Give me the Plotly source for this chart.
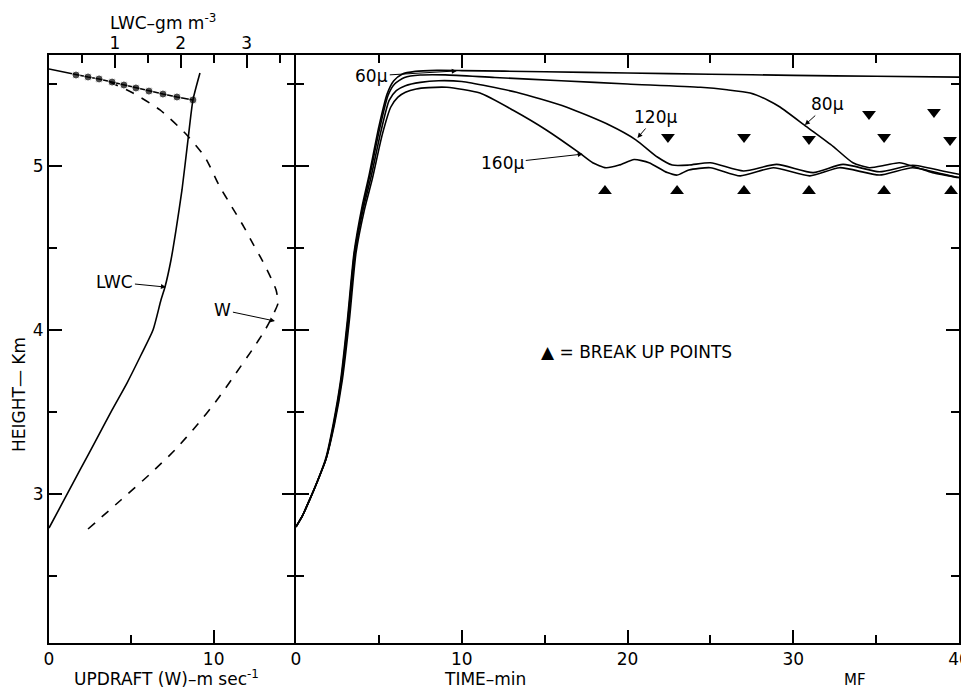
import plotly.graph_objects as go

# ---------------- data: left panel (profiles) ----------------
lwc_height = [2.793, 2.964, 3.147, 3.329, 3.512, 3.677, 3.848, 4.0, 4.183, 4.262, 4.427, 4.61,
              4.854, 5.159, 5.403, 5.567]
lwc_value = [0.0, 0.228, 0.471, 0.714, 0.956, 1.184, 1.397, 1.579, 1.70, 1.761, 1.852, 1.928,
             2.019, 2.11, 2.186, 2.292]

w_value = [2.37, 4.37, 6.07, 7.65, 8.99, 10.20, 11.36, 12.33, 13.12, 13.60, 13.91, 13.79, 13.48,
           12.94, 12.39, 11.84, 11.11, 10.32, 9.47, 8.26, 6.74, 5.10, 3.70]
w_height = [2.787, 2.964, 3.116, 3.269, 3.421, 3.573, 3.738, 3.878, 4.0, 4.092, 4.165, 4.244,
            4.317, 4.427, 4.525, 4.628, 4.75, 4.884, 5.055, 5.201, 5.342, 5.445, 5.512]

top_w = [0.0, 1.64, 2.37, 3.04, 3.83, 4.55, 5.28, 6.07, 6.92, 7.77, 8.74]
top_height = [5.592, 5.555, 5.543, 5.531, 5.512, 5.494, 5.476, 5.457, 5.439, 5.421, 5.403]

# ---------------- data: right panel (trajectories) ----------------
t60 = [0, 0.4, 0.8, 1.3, 1.8, 2.25, 2.7, 3.1, 3.5, 4.0, 4.4, 5.0, 5.5, 5.9, 6.4, 7.2, 8.5, 10,
       15, 20, 25, 30, 35, 40]
h60 = [2.80, 2.87, 2.96, 3.08, 3.22, 3.43, 3.70, 4.06, 4.47, 4.76, 4.94, 5.24, 5.44, 5.52, 5.56,
       5.577, 5.583, 5.582, 5.575, 5.567, 5.56, 5.553, 5.547, 5.542]

t80 = [0, 0.4, 0.8, 1.3, 1.8, 2.28, 2.73, 3.13, 3.53, 4.03, 4.45, 5.05, 5.55, 5.95, 6.55, 7.5, 9,
       12, 16, 20, 24.4, 26, 27.4, 28.5, 29.2, 30.8, 32.4, 33.6, 34.6, 35.6, 36.4, 37.5, 38.4, 40]
h80 = [2.80, 2.87, 2.96, 3.08, 3.21, 3.43, 3.70, 4.06, 4.47, 4.75, 4.94, 5.23, 5.43, 5.50, 5.54,
       5.555, 5.556, 5.54, 5.52, 5.50, 5.48, 5.465, 5.445, 5.40, 5.36, 5.24, 5.12, 5.02, 4.99,
       5.006, 5.02, 4.99, 4.96, 4.93]

t120 = [0, 0.4, 0.8, 1.3, 1.8, 2.3, 2.76, 3.16, 3.56, 4.06, 4.52, 5.12, 5.62, 6.05, 6.6, 7.5, 8.6,
        10, 13.3, 16.3, 18.9, 20.5, 21.8, 22.7, 23.7, 25, 27, 29, 31.2, 33, 35.2, 37.2, 39, 40]
h120 = [2.80, 2.87, 2.96, 3.08, 3.21, 3.43, 3.70, 4.06, 4.47, 4.74, 4.93, 5.21, 5.40, 5.46, 5.49,
        5.51, 5.52, 5.515, 5.45, 5.36, 5.25, 5.16, 5.055, 5.006, 5.006, 5.02, 4.97, 5.01, 4.96,
        5.01, 4.965, 5.005, 4.97, 4.95]

t160 = [0, 0.4, 0.8, 1.3, 1.8, 2.33, 2.8, 3.22, 3.62, 4.12, 4.6, 5.2, 5.72, 6.15, 6.6, 7.25, 8,
        9.1, 11.1, 13.1, 15.1, 17.1, 17.9, 18.7, 19.5, 20.4, 21.3, 22.4, 23.0, 23.7, 25, 26.8,
        28.8, 31.0, 32.8, 35.2, 37.2, 39.9, 40]
h160 = [2.80, 2.87, 2.96, 3.08, 3.21, 3.43, 3.70, 4.06, 4.47, 4.73, 4.92, 5.19, 5.36, 5.42, 5.45,
        5.47, 5.478, 5.48, 5.445, 5.34, 5.22, 5.08, 5.02, 4.99, 5.006, 5.04, 5.02, 4.96, 4.945,
        4.976, 4.99, 4.94, 4.99, 4.94, 4.99, 4.945, 4.99, 4.93, 4.93]

breakup_t = [18.64, 22.99, 27.03, 30.95, 35.48, 39.52]
breakup_h = [4.848, 4.848, 4.848, 4.848, 4.848, 4.848]
down120_t = [22.44, 27.03, 30.95, 35.48, 39.46]
down120_h = [5.177, 5.177, 5.165, 5.177, 5.159]
down80_t = [34.57, 38.49]
down80_h = [5.317, 5.329]

FONT = "DejaVu Sans"
BLACK = "black"

fig = go.Figure()
line = dict(color=BLACK, width=1.6)

# left panel
fig.add_trace(go.Scatter(x=lwc_value, y=lwc_height, mode="lines",
                         line=dict(color=BLACK, width=1.6, shape="spline", smoothing=0.6),
                         xaxis="x3", yaxis="y"))
fig.add_trace(go.Scatter(x=w_value, y=w_height, mode="lines",
                         line=dict(color=BLACK, width=1.6, dash="dash", shape="spline", smoothing=0.6),
                         xaxis="x", yaxis="y"))
fig.add_trace(go.Scatter(x=top_w, y=top_height, mode="lines+markers", line=line,
                         marker=dict(size=[0] + [8] * (len(top_w) - 1), color=BLACK),
                         xaxis="x", yaxis="y"))

# right panel
for tt, hh in [(t60, h60), (t80, h80), (t120, h120), (t160, h160)]:
    fig.add_trace(go.Scatter(x=tt, y=hh, mode="lines",
                             line=dict(color=BLACK, width=1.6, shape="spline", smoothing=0.6),
                             xaxis="x2", yaxis="y2"))
fig.add_trace(go.Scatter(x=breakup_t, y=breakup_h, mode="markers",
                         marker=dict(symbol="triangle-up", size=12, color=BLACK), xaxis="x2", yaxis="y2"))
fig.add_trace(go.Scatter(x=down120_t + down80_t, y=down120_h + down80_h, mode="markers",
                         marker=dict(symbol="triangle-down", size=12, color=BLACK), xaxis="x2", yaxis="y2"))
# empty trace so the tick-only overlay axis on the shared border is drawn
fig.add_trace(go.Scatter(x=[], y=[], mode="lines", xaxis="x2", yaxis="y3", hoverinfo="skip"))

split = 247 / 910
axcommon = dict(showline=True, linecolor=BLACK, linewidth=2, ticks="inside", tickcolor=BLACK,
                tickwidth=1.5, ticklen=13, showgrid=False, zeroline=False, automargin=False,
                tickfont=dict(family=FONT, size=17, color=BLACK))
minor_common = dict(ticks="inside", ticklen=8, tickwidth=1.5, tickcolor=BLACK, showgrid=False)
yr = [2.092, 5.677]

# the page body has an 8px margin, so the figure is sized to fill the rest of the window
fig.update_layout(
    width=961, height=681,
    margin=dict(l=41, r=10, t=47, b=46),
    paper_bgcolor="white", plot_bgcolor="white",
    showlegend=False,
    xaxis=dict(domain=[0, split], range=[0, 15], tickvals=[0, 10], ticktext=["0", "10"],
               minor=dict(tickvals=[5], **minor_common), anchor="y", **axcommon),
    xaxis3=dict(overlaying="x", side="top", range=[0, 3.75], tickvals=[1, 2, 3],
                ticklabelstandoff=-3,
                minor=dict(tickvals=[0.5, 1.5, 2.5, 3.5], **minor_common), anchor="y", **axcommon),
    xaxis2=dict(domain=[split, 1], range=[0, 40], tickvals=[0, 10, 20, 30, 40],
                ticklabeloverflow="allow",
                minor=dict(tickvals=[5, 15, 25, 35], **minor_common), anchor="y2", mirror="ticks",
                **axcommon),
    yaxis=dict(domain=[0, 1], range=yr, tickvals=[3, 4, 5],
               minor=dict(tickvals=[2.5, 3.5, 4.5, 5.5], **minor_common), anchor="x", mirror=False,
               **axcommon),
    yaxis2=dict(domain=[0, 1], range=yr, tickvals=[3, 4, 5], showticklabels=False,
                minor=dict(tickvals=[2.5, 3.5, 4.5, 5.5], **minor_common), anchor="x2", mirror="ticks",
                **axcommon),
    yaxis3=dict(overlaying="y2", anchor="x2", side="left", range=yr, tickvals=[3, 4, 5],
                showticklabels=False, showline=False, showgrid=False, zeroline=False,
                ticks="outside", ticklen=13, tickwidth=1.5, tickcolor=BLACK, automargin=False,
                minor=dict(tickvals=[2.5, 3.5, 4.5, 5.5], ticks="outside", ticklen=8, tickwidth=1.5,
                           tickcolor=BLACK, showgrid=False)),
)


def px(xp, yp):
    # window pixel -> paper coordinates of the plot area (49..959, 55..643 in the window)
    return (xp - 49) / 910, (643 - yp) / 588


anns = []
tf = dict(family=FONT, size=17, color=BLACK)
center = dict(xref="paper", yref="paper", xanchor="center", yanchor="middle", showarrow=False)

x_, y_ = px(166, 678)
anns.append(dict(x=x_, y=y_, text="UPDRAFT (W)–m sec<sup>-1</sup>", font=tf, **center))
x_, y_ = px(485, 679)
anns.append(dict(x=x_, y=y_, text="TIME–min", font=tf, **center))
x_, y_ = px(855, 680)
anns.append(dict(x=x_, y=y_, text="MF", font=dict(family=FONT, size=15, color=BLACK), **center))
x_, y_ = px(163, 22)
anns.append(dict(x=x_, y=y_, text="LWC–gm m<sup>-3</sup>", font=tf, **center))
x_, y_ = px(19, 395)
anns.append(dict(x=x_, y=y_, text="HEIGHT— Km", textangle=-90, font=tf, **center))
x_, y_ = px(636, 352)
anns.append(dict(x=x_, y=y_, text="▲ = BREAK UP POINTS", font=tf, **center))

arrow = dict(showarrow=True, arrowhead=2, arrowsize=1, arrowwidth=1, arrowcolor=BLACK, font=tf)
anns.append(dict(x=9.7, y=5.58, xref="x2", yref="y2", text="60μ", ax=-85, ay=5, **arrow))
anns.append(dict(x=17.3, y=5.073, xref="x2", yref="y2", text="160μ", ax=-80, ay=9, **arrow))
anns.append(dict(x=20.6, y=5.171, xref="x2", yref="y2", text="120μ", ax=18, ay=-21, **arrow))
anns.append(dict(x=30.7, y=5.25, xref="x2", yref="y2", text="80μ", ax=23, ay=-21, **arrow))
anns.append(dict(x=7.1, y=4.262, xref="x", yref="y", text="LWC", ax=-51, ay=-5, **arrow))
anns.append(dict(x=13.72, y=4.055, xref="x", yref="y", text="W", ax=-52, ay=-11, **arrow))

fig.update_layout(annotations=anns)
fig.write_html("out.html")
